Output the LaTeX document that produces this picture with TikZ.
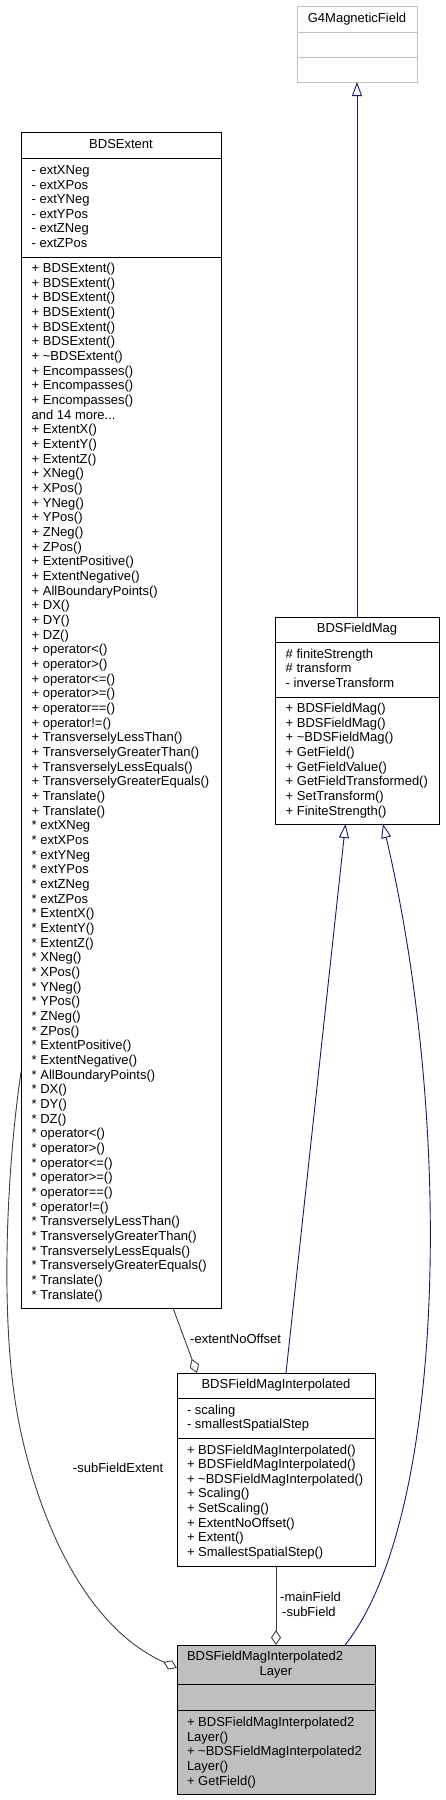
\documentclass[tikz,border=0pt]{standalone}
\usepackage{fontspec}
\setmainfont{Liberation Sans}
\usetikzlibrary{arrows.meta}
\definecolor{navyedge}{HTML}{191970}
\definecolor{aggedge}{HTML}{404040}
\definecolor{grayfill}{HTML}{BFBFBF}
\newcommand{\tdotsx}{...}
\begin{document}
\begin{tikzpicture}[x=1pt,y=-1pt,
  box/.style={draw=black,line width=1pt,inner sep=0pt,outer sep=0pt,anchor=north west,fill=white},
  gbox/.style={box,draw=grayfill},
  lbox/.style={box,fill=grayfill},
  divider/.style={line width=1pt},
  txt/.style={anchor=base west,inner sep=0pt,font=\fontsize{13}{15}\selectfont},
  hdr/.style={anchor=base,inner sep=0pt,font=\fontsize{13}{15}\selectfont},
  lbl/.style={inner sep=0pt,font=\fontsize{13}{15}\selectfont},
  inh/.style={draw=navyedge,line width=0.9pt,-{Triangle[open,length=14pt,width=10pt]}},
  agg/.style={draw=aggedge,line width=0.9pt,-{Diamond[open,length=15pt,width=10pt]}}]
\fill[white] (0,0) rectangle (445,1800);
\useasboundingbox (0,0) rectangle (445,1800);

% G4MagneticField
\node[gbox,minimum width=120pt,minimum height=76pt] (g4) at (297,6) {};
\draw[divider,draw=grayfill] (297,32) -- (417,32);
\draw[divider,draw=grayfill] (297,57) -- (417,57);
\node[hdr] (g4h) at (357,22) {G4MagneticField};

% BDSExtent
\node[box,minimum width=200pt,minimum height=1176pt] (ext) at (21,132) {};
\draw[divider] (21,158) -- (221,158);
\draw[divider] (21,257) -- (221,257);
\node[hdr] (exth) at (121,148) {BDSExtent};
\foreach \t [count=\i from 0] in {- extXNeg,- extXPos,- extYNeg,- extYPos,- extZNeg,- extZPos}
  {\node[txt] (exta\i) at (31.5,174.7+14.55*\i) {\t};}
\foreach \t [count=\i from 0] in {+ BDSExtent(),+ BDSExtent(),+ BDSExtent(),+ BDSExtent(),+ BDSExtent(),+ BDSExtent(),+ \textasciitilde BDSExtent(),+ Encompasses(),+ Encompasses(),+ Encompasses(),and 14 more\tdotsx,+ ExtentX(),+ ExtentY(),+ ExtentZ(),+ XNeg(),+ XPos(),+ YNeg(),+ YPos(),+ ZNeg(),+ ZPos(),+ ExtentPositive(),+ ExtentNegative(),+ AllBoundaryPoints(),+ DX(),+ DY(),+ DZ(),+ operator<(),+ operator>(),+ operator<=(),+ operator>=(),+ operator==(),+ operator!=(),+ TransverselyLessThan(),+ TransverselyGreaterThan(),+ TransverselyLessEquals(),+ TransverselyGreaterEquals(),+ Translate(),+ Translate(),* extXNeg,* extXPos,* extYNeg,* extYPos,* extZNeg,* extZPos,* ExtentX(),* ExtentY(),* ExtentZ(),* XNeg(),* XPos(),* YNeg(),* YPos(),* ZNeg(),* ZPos(),* ExtentPositive(),* ExtentNegative(),* AllBoundaryPoints(),* DX(),* DY(),* DZ(),* operator<(),* operator>(),* operator<=(),* operator>=(),* operator==(),* operator!=(),* TransverselyLessThan(),* TransverselyGreaterThan(),* TransverselyLessEquals(),* TransverselyGreaterEquals(),* Translate(),* Translate()}
  {\node[txt] (extm\i) at (31.5,272.4+14.67*\i) {\t};}

% BDSFieldMag
\node[box,minimum width=164pt,minimum height=207pt] (bfm) at (275,617) {};
\draw[divider] (275,642) -- (439,642);
\draw[divider] (275,697) -- (439,697);
\node[hdr] (bfmh) at (357,632.4) {BDSFieldMag};
\foreach \t [count=\i from 0] in {\# finiteStrength,\# transform,- inverseTransform}
  {\node[txt] (bfma\i) at (285.5,658+14.5*\i) {\t};}
\foreach \t [count=\i from 0] in {+ BDSFieldMag(),+ BDSFieldMag(),+ \textasciitilde BDSFieldMag(),+ GetField(),+ GetFieldValue(),+ GetFieldTransformed(),+ SetTransform(),+ FiniteStrength()}
  {\node[txt] (bfmm\i) at (285.5,712.4+14.7*\i) {\t};}

% BDSFieldMagInterpolated
\node[box,minimum width=198pt,minimum height=193pt] (interp) at (177,1373) {};
\draw[divider] (177,1398) -- (375,1398);
\draw[divider] (177,1438) -- (375,1438);
\node[hdr] (interph) at (276,1388) {BDSFieldMagInterpolated};
\foreach \t [count=\i from 0] in {- scaling,- smallestSpatialStep}
  {\node[txt] (interpa\i) at (186.8,1414.2+14.6*\i) {\t};}
\foreach \t [count=\i from 0] in {+ BDSFieldMagInterpolated(),+ BDSFieldMagInterpolated(),+ \textasciitilde BDSFieldMagInterpolated(),+ Scaling(),+ SetScaling(),+ ExtentNoOffset(),+ Extent(),+ SmallestSpatialStep()}
  {\node[txt] (interpm\i) at (186.8,1454+14.63*\i) {\t};}

% BDSFieldMagInterpolated2Layer
\node[lbox,minimum width=198pt,minimum height=149pt] (lay) at (177,1645) {};
\draw[divider] (177,1684) -- (375,1684);
\draw[divider] (177,1710) -- (375,1710);
\node[txt] (layh1) at (186.8,1660.4) {BDSFieldMagInterpolated2};
\node[hdr] (layh2) at (276,1675) {Layer};
\foreach \t [count=\i from 0] in {+ BDSFieldMagInterpolated2,Layer(),+ \textasciitilde BDSFieldMagInterpolated2,Layer(),+ GetField()}
  {\node[txt] (laym\i) at (186.8,1726.4+14.65*\i) {\t};}

% inheritance connectors
\draw[inh] (bfm.north) -- (g4.south);
\draw[inh] ([xshift=10pt]interp.north) -- ([xshift=-11.5pt]bfm.south);
\draw[inh] ([xshift=69pt]lay.north) .. controls (445,1520) and (455,1130) .. ([xshift=26pt]bfm.south);

% aggregation connectors
\coordinate (c1) at (15,1400);
\draw[agg] ([xshift=52pt]ext.south) -- ([xshift=-79pt]interp.north);
\draw[agg] (interp.south) -- (lay.north);
\draw[agg] ([yshift=236pt]ext.south west) .. controls (8,1160) and (0,1300) .. (c1) .. controls (27,1480) and (70,1620) .. ([yshift=51.5pt]lay.west);

% labels
\node[lbl,anchor=base west] (l1) at (190,1343.5) {-extentNoOffset};
\node[lbl,anchor=base east] (l2) at (163.5,1472.5) {-subFieldExtent};
\node[lbl,anchor=base west] (l3) at (280,1601.5) {-mainField};
\node[lbl,anchor=base west] (l4) at (282,1616.5) {-subField};
\end{tikzpicture}
\end{document}
